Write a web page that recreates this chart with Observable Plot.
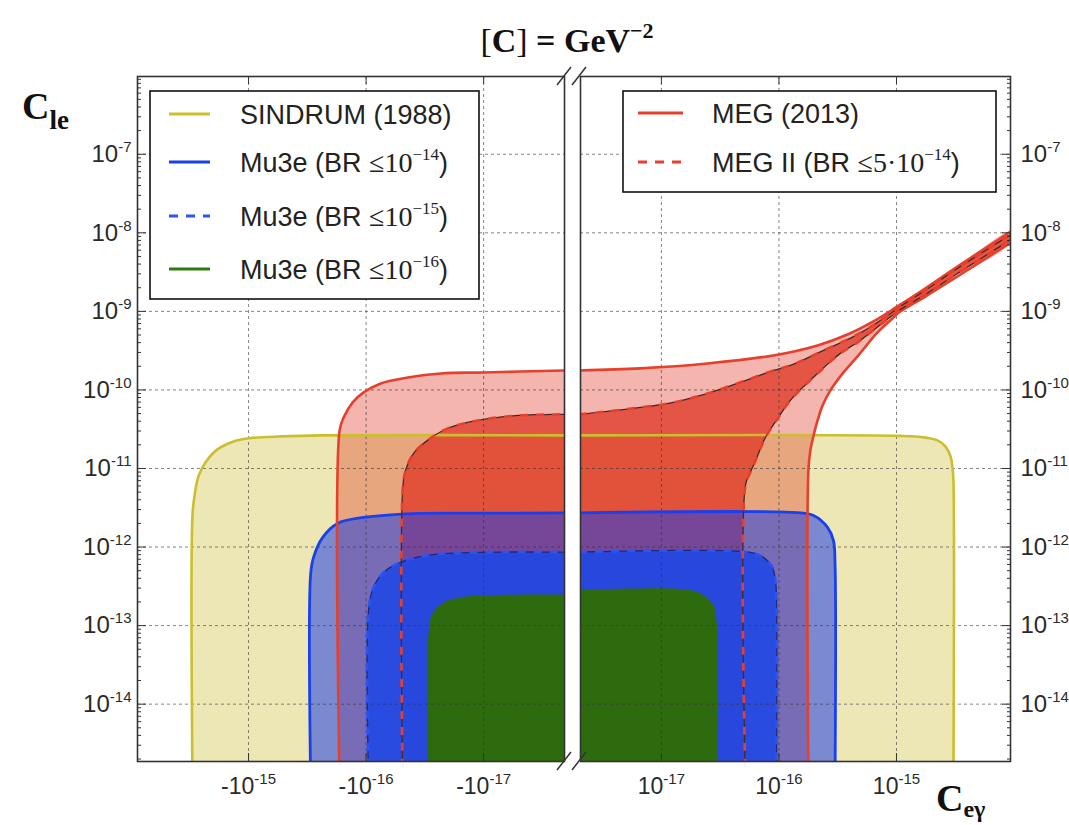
<!DOCTYPE html>
<html>
<head>
<meta charset="utf-8">
<script src="https://cdn.jsdelivr.net/npm/d3@7"></script>
<script src="https://cdn.jsdelivr.net/npm/@observablehq/plot@0.6"></script>
<style>
  html, body { margin: 0; padding: 0; background: #fff; }
  #wrap { position: relative; width: 1069px; height: 825px; overflow: hidden; background: #fff; }
</style>
</head>
<body>
<div id="wrap"></div>
<script>
// ---------------- data ----------------
const Y_DOMAIN = [1.862e-15, 9.77e-7];
const XL_DOMAIN = [-8.81e-15, -2.05e-18];
const XR_DOMAIN = [2.05e-18, 9.33e-15];
const BOTTOM = 1e-15;      // below the visible y range (closes the regions)
const OUTSIDE = 1e-19;     // beyond the axis break (closes the regions)

const yMajor = [1e-14, 1e-13, 1e-12, 1e-11, 1e-10, 1e-9, 1e-8, 1e-7];
const yLabels = ["10^-14", "10^-13", "10^-12", "10^-11", "10^-10", "10^-9", "10^-8", "10^-7"];
const xTicksL = [-1e-15, -1e-16, -1e-17];
const xLabelsL = ["-10^-15", "-10^-16", "-10^-17"];
const xTicksR = [1e-17, 1e-16, 1e-15];
const xLabelsR = ["10^-17", "10^-16", "10^-15"];

const seriesNames = ["SINDRUM (1988)", "Mu3e (BR ≤10^−14)", "Mu3e (BR ≤10^−15)", "Mu3e (BR ≤10^−16)", "MEG (2013)", "MEG II (BR ≤5·10^−14)"];

// left panel (negative C_eγ): boundary from the bottom up to the axis break
const sindrumL = [[-3.0e-15, 1e-15], [-3.0e-15, 2.53e-12], [-2.88e-15, 4.55e-12], [-2.67e-15, 7.93e-12], [-2.32e-15, 1.2e-11], [-1.84e-15, 1.75e-11], [-1.34e-15, 2.21e-11], [-1.0e-15, 2.42e-11], [-5.3e-16, 2.56e-11], [-2.4e-16, 2.64e-11], [-2e-18, 2.64e-11]];
const megL = [[-1.68e-16, 1e-15], [-1.68e-16, 3.05e-11], [-1.55e-16, 4.47e-11], [-1.30e-16, 6.93e-11], [-1.05e-16, 9.3e-11], [-7.5e-17, 1.21e-10], [-4.4e-17, 1.44e-10], [-2.3e-17, 1.62e-10], [-1.0e-17, 1.67e-10], [-2e-18, 1.77e-10]];
const meg2L = [[-4.89e-17, 1e-15], [-4.89e-17, 5.26e-12], [-4.61e-17, 9.46e-12], [-3.94e-17, 1.56e-11], [-3.0e-17, 2.28e-11], [-2.02e-17, 3.24e-11], [-1.12e-17, 4.09e-11], [-5.1e-18, 4.73e-11], [-2e-18, 4.88e-11]];
const mu14L = [[-2.96e-16, 1e-15], [-2.96e-16, 4.62e-13], [-2.8e-16, 7.4e-13], [-2.34e-16, 1.33e-12], [-1.75e-16, 2.0e-12], [-1.05e-16, 2.38e-12], [-3.94e-17, 2.67e-12], [-1.06e-17, 2.7e-12], [-2e-18, 2.72e-12]];
const mu15L = [[-9.53e-17, 1e-15], [-9.53e-17, 1.56e-13], [-8.64e-17, 3.07e-13], [-7.1e-17, 4.76e-13], [-5.09e-17, 6.38e-13], [-3.0e-17, 7.83e-13], [-1.06e-17, 8.55e-13], [-2e-18, 8.6e-13]];
const mu16L = [[-2.94e-17, 1e-15], [-2.94e-17, 7.96e-14], [-2.72e-17, 1.43e-13], [-2.19e-17, 1.97e-13], [-1.57e-17, 2.29e-13], [-1.06e-17, 2.42e-13], [-2e-18, 2.48e-13]];

// right panel (positive C_eγ): boundary from the axis break outwards
const sindrumR = [[2e-18, 2.64e-11], [1.08e-15, 2.6e-11], [1.73e-15, 2.49e-11], [2.23e-15, 2.28e-11], [2.61e-15, 1.91e-11], [2.88e-15, 1.43e-11], [3.0e-15, 1.0e-11], [3.05e-15, 7.05e-12], [3.05e-15, 1e-15]];
const mu14R = [[2e-18, 2.72e-12], [1.52e-16, 2.72e-12], [1.97e-16, 2.52e-12], [2.59e-16, 1.78e-12], [2.91e-16, 1.21e-12], [3.0e-16, 6.19e-13], [3.0e-16, 1e-15]];
const mu15R = [[2e-18, 8.6e-13], [5.71e-17, 8.55e-13], [7.38e-17, 7.38e-13], [8.8e-17, 5.5e-13], [9.33e-17, 3.76e-13], [9.53e-17, 2.29e-13], [9.53e-17, 1e-15]];
const mu16R = [[2e-18, 2.9e-13], [1.54e-17, 2.9e-13], [2.15e-17, 2.57e-13], [2.72e-17, 1.92e-13], [2.94e-17, 1.17e-13], [3.0e-17, 1e-15]];
const megUpperR = [[2e-18, 1.77e-10], [6.6e-18, 1.88e-10], [2.46e-17, 2.17e-10], [8.97e-17, 2.75e-10], [2.13e-16, 3.69e-10], [3.83e-16, 5.08e-10], [6.37e-16, 7.45e-10], [1.02e-15, 1.156e-9], [1.70e-15, 1.90e-9], [3.30e-15, 3.72e-9], [9.4e-15, 1.04e-8]];
const megLowerR = [[1.78e-16, 1e-15], [1.78e-16, 9.46e-12], [1.85e-16, 1.70e-11], [2.0e-16, 2.88e-11], [2.13e-16, 4.09e-11], [2.35e-16, 6.35e-11], [2.74e-16, 9.86e-11], [3.54e-16, 1.67e-10], [4.66e-16, 2.67e-10], [6.89e-16, 5.4e-10], [9.42e-16, 8.37e-10], [1.02e-15, 9.42e-10], [1.70e-15, 1.50e-9], [3.30e-15, 2.78e-9], [9.4e-15, 7.53e-9]];
const meg2UpperR = [[2e-18, 4.88e-11], [6.6e-18, 5.98e-11], [1.26e-17, 6.93e-11], [2.46e-17, 9.03e-11], [4.7e-17, 1.25e-10], [8.97e-17, 1.77e-10], [1.25e-16, 2.05e-10], [2.39e-16, 3.18e-10], [4.66e-16, 5.08e-10], [7.74e-16, 8.13e-10], [1.02e-15, 1.09e-9], [1.70e-15, 1.79e-9], [3.30e-15, 3.52e-9], [9.4e-15, 9.5e-9]];
const meg2LowerR = [[5.19e-17, 1e-15], [5.19e-17, 6.1e-12], [5.71e-17, 8.92e-12], [6.44e-17, 1.34e-11], [7.68e-17, 2.48e-11], [9.9e-17, 4.47e-11], [1.25e-16, 7.36e-11], [2.13e-16, 1.62e-10], [3.33e-16, 2.92e-10], [4.66e-16, 4.03e-10], [7.74e-16, 7.24e-10], [1.02e-15, 9.98e-10], [1.70e-15, 1.59e-9], [3.30e-15, 3.03e-9], [9.4e-15, 8.22e-9]];

// ---------------- styles ----------------
const C = {
  yellowFill: "#d6ca5c", yellowLine: "#cbbf2e",
  red: "#e03c28", redLine: "#e6402c",
  blue14: "#1e3ce6", blue14Line: "#1a40ee",
  blue15: "#2048e4", blue15Line: "#2a55f5",
  green: "#2e6b0f", greenLine: "#2f7a10",
  text: "#222"
};
const SANS = '"Liberation Sans", Arial, sans-serif';
const SERIF = '"Liberation Serif", "DejaVu Serif", serif';

// minor ticks of the log y axis
const yMinor = [];
for (let e = -15; e <= -7; e++) for (let m = 2; m <= 9; m++) {
  const v = m * Math.pow(10, e);
  if (v > Y_DOMAIN[0] && v < Y_DOMAIN[1]) yMinor.push(v);
}

const leftPoly = c => [...c, [-OUTSIDE, c[c.length - 1][1]], [-OUTSIDE, BOTTOM]];
const rightPoly = c => [[OUTSIDE, BOTTOM], [OUTSIDE, c[0][1]], ...c];
const bandPoly = (up, lo) => [[OUTSIDE, BOTTOM], [OUTSIDE, up[0][1]], ...up, ...lo.slice().reverse()];

const X = d => d[0], Y = d => d[1];
const fillMark = (poly, fill, op) => Plot.line(poly, {x: X, y: Y, fill, fillOpacity: op, stroke: "none", curve: "catmull-rom", clip: true});
const strokeMark = (c, stroke, w, dash, off) => Plot.line(c, {x: X, y: Y, stroke, strokeWidth: w, strokeDasharray: dash, strokeDashoffset: off || 0, strokeLinecap: "butt", curve: "catmull-rom", clip: true});
const dashedPair = (c, color, dark) => [
  strokeMark(c, color, 2.6, "8,8", 0),
  strokeMark(c, dark, 1.3, "8,8", 8)
];

function panel(side) {
  const isL = side === "L";
  const xTicks = isL ? xTicksL : xTicksR;
  const xLabels = isL ? xLabelsL : xLabelsR;
  const fills = isL ? [
    fillMark(leftPoly(sindrumL), C.yellowFill, 0.45),
    fillMark(leftPoly(megL), C.red, 0.38),
    fillMark(leftPoly(meg2L), C.red, 0.79),
    fillMark(leftPoly(mu14L), C.blue14, 0.55),
    fillMark(leftPoly(mu15L), C.blue15, 0.9),
    fillMark(leftPoly(mu16L), C.green, 1)
  ] : [
    fillMark(rightPoly(sindrumR), C.yellowFill, 0.45),
    fillMark(bandPoly(megUpperR, megLowerR), C.red, 0.38),
    fillMark(bandPoly(meg2UpperR, meg2LowerR), C.red, 0.79),
    fillMark(rightPoly(mu14R), C.blue14, 0.55),
    fillMark(rightPoly(mu15R), C.blue15, 0.9),
    fillMark(rightPoly(mu16R), C.green, 1)
  ];
  const strokes = isL ? [
    strokeMark(sindrumL, C.yellowLine, 2.6),
    strokeMark(mu14L, C.blue14Line, 2.8),
    ...dashedPair(mu15L, C.blue15Line, "#1a2a80"),
    strokeMark(megL, C.redLine, 2.6),
    ...dashedPair(meg2L, C.redLine, "#4a2626")
  ] : [
    strokeMark(sindrumR, C.yellowLine, 2.6),
    strokeMark(mu14R, C.blue14Line, 2.8),
    ...dashedPair(mu15R, C.blue15Line, "#1a2a80"),
    strokeMark(megUpperR, C.redLine, 2.6),
    strokeMark(megLowerR, C.redLine, 2.6),
    ...dashedPair(meg2UpperR, C.redLine, "#4a2626"),
    ...dashedPair(meg2LowerR, C.redLine, "#4a2626")
  ];
  const anchorY = isL ? "left" : "right";
  return Plot.plot({
    width: isL ? 572 : 497,
    height: 825,
    marginLeft: isL ? 137 : 8,
    marginRight: isL ? 8 : 59,
    marginTop: 76,
    marginBottom: 64,
    style: {fontFamily: SANS, fontSize: "23px", color: "#2a2a2a", background: "transparent", overflow: "visible"},
    x: {type: "log", domain: isL ? XL_DOMAIN : XR_DOMAIN},
    y: {type: "log", domain: Y_DOMAIN},
    marks: [
      ...fills,
      Plot.gridX(xTicks, {stroke: "#333", strokeOpacity: 0.6, strokeDasharray: "3,3", strokeWidth: 1}),
      Plot.gridY(yMajor, {stroke: "#333", strokeOpacity: 0.6, strokeDasharray: "3,3", strokeWidth: 1}),
      ...strokes,
      Plot.frame({stroke: "#333", strokeWidth: 1.6}),
      Plot.axisY(yMajor, {anchor: anchorY, tickSize: -9, tickFormat: () => "", label: null, stroke: "#333"}),
      Plot.axisY(yMinor, {anchor: anchorY, tickSize: -4, tickFormat: () => "", label: null, stroke: "#333"}),
      Plot.axisY(yMajor, {anchor: anchorY, tickSize: 0, tickPadding: isL ? 6 : 10, fontSize: 24, label: null,
        tickFormat: d => yLabels[yMajor.indexOf(d)]}),
      Plot.axisX(xTicks, {anchor: "bottom", tickSize: -8, tickFormat: () => "", label: null, stroke: "#333"}),
      Plot.axisX(xTicks, {anchor: "top", tickSize: -7, tickFormat: () => "", label: null, stroke: "#333"}),
      Plot.axisX(xTicks, {anchor: "bottom", tickSize: 0, tickPadding: 16, fontSize: 23, label: null,
        tickFormat: d => xLabels[xTicks.indexOf(d)]})
    ]
  });
}

const NS = "http://www.w3.org/2000/svg";
function supify(svg) {
  svg.querySelectorAll("text").forEach(t => {
    const s = t.textContent;
    const k = s.indexOf("^");
    if (k < 0) return;
    t.textContent = "";
    const a = document.createElementNS(NS, "tspan");
    a.textContent = s.slice(0, k);
    t.appendChild(a);
    const b = document.createElementNS(NS, "tspan");
    b.textContent = s.slice(k + 1);
    b.setAttribute("font-size", "15");
    b.setAttribute("dy", "-10");
    t.appendChild(b);
  });
}

const wrap = document.getElementById("wrap");
const pL = panel("L"), pR = panel("R");
[pL, pR].forEach((p, i) => {
  p.style.position = "absolute";
  p.style.top = "0px";
  p.style.left = i === 0 ? "0px" : "572px";
  p.style.maxWidth = "none";
  supify(p);
  wrap.appendChild(p);
});

// ---------------- overlay: title, axis names, break marks, legends ----------------
const ov = d3.select(wrap).append("svg")
  .attr("width", 1069).attr("height", 825)
  .style("position", "absolute").style("left", "0px").style("top", "0px");

// title
const title = ov.append("text").attr("x", 567).attr("y", 52).attr("text-anchor", "middle")
  .attr("font-family", SERIF).attr("font-size", 34).attr("font-weight", "bold").attr("fill", "#111");
title.append("tspan").attr("font-weight", "normal").text("[");
title.append("tspan").text("C");
title.append("tspan").attr("font-weight", "normal").text("]");
title.append("tspan").text(" = GeV");
title.append("tspan").attr("font-size", 22).attr("dy", -14).text("−2");

// axis names
const yName = ov.append("text").attr("x", 22).attr("y", 119).attr("font-family", SERIF)
  .attr("font-weight", "bold").attr("font-size", 38).attr("fill", "#111");
yName.append("tspan").text("C");
yName.append("tspan").attr("font-size", 27).attr("dy", 10).text("le");
const xName = ov.append("text").attr("x", 936).attr("y", 811).attr("font-family", SERIF)
  .attr("font-weight", "bold").attr("font-size", 38).attr("fill", "#111");
xName.append("tspan").text("C");
xName.append("tspan").attr("font-size", 24).attr("dy", 6).text("eγ");

// break marks
[564, 579].forEach(bx => [76, 761].forEach(by => {
  ov.append("line").attr("x1", bx - 7).attr("y1", by + 9).attr("x2", bx + 7).attr("y2", by - 9)
    .attr("stroke", "#333").attr("stroke-width", 1.5);
}));

// legends
function legend(x, y, w, h, textLeft, sx0, sx1, entries) {
  const g = ov.append("g");
  g.append("rect").attr("x", x).attr("y", y).attr("width", w).attr("height", h)
    .attr("fill", "#fff").attr("stroke", "#111").attr("stroke-width", 1.6);
  entries.forEach(e => {
    g.append("line").attr("x1", x + sx0).attr("x2", x + sx1).attr("y1", y + e.cy).attr("y2", y + e.cy)
      .attr("stroke", e.color).attr("stroke-width", 3.2).attr("stroke-dasharray", e.dash ? "9,8" : null);
    const t = g.append("text").attr("x", x + textLeft).attr("y", y + e.cy + 10)
      .attr("font-family", SANS).attr("font-size", 27).attr("fill", C.text);
    const name = e.name;
    const open = name.indexOf("≤");
    if (open < 0) { t.text(name); return; }
    const caret = name.indexOf("^");
    t.append("tspan").text(name.slice(0, open));
    t.append("tspan").attr("font-family", SERIF).attr("font-size", 28).text(name.slice(open, caret));
    t.append("tspan").attr("font-family", SERIF).attr("font-size", 17).attr("dy", -12).text(name.slice(caret + 1, name.length - 1));
    t.append("tspan").attr("dy", 12).text(name.slice(-1));
  });
}
legend(150, 91, 329, 208, 90, 19, 60, [
  {name: seriesNames[0], color: C.yellowLine, cy: 23},
  {name: seriesNames[1], color: C.blue14Line, cy: 71},
  {name: seriesNames[2], color: C.blue15Line, cy: 125, dash: true},
  {name: seriesNames[3], color: C.greenLine, cy: 178}
]);
legend(623, 91, 373, 101, 89, 15, 60, [
  {name: seriesNames[4], color: C.redLine, cy: 22},
  {name: seriesNames[5], color: C.redLine, cy: 71, dash: true}
]);
</script>
</body>
</html>
